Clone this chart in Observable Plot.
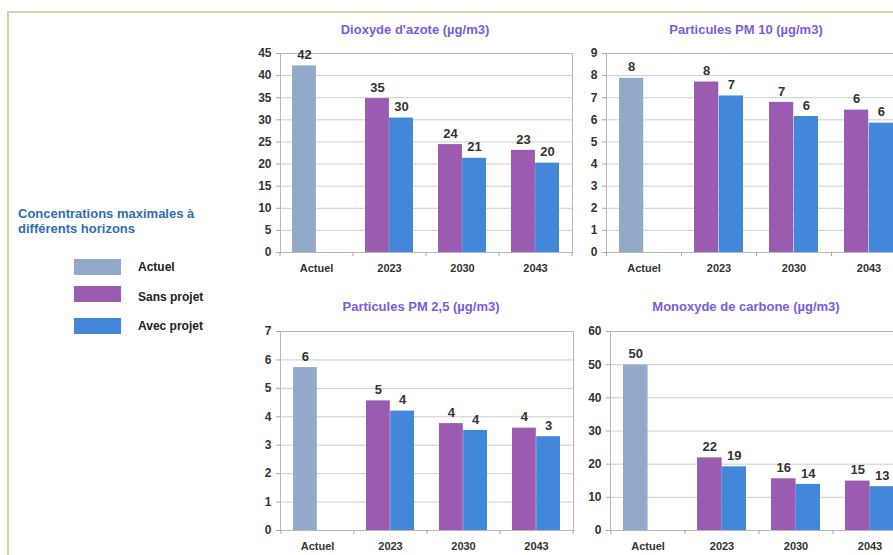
<!DOCTYPE html>
<html><head><meta charset="utf-8">
<script src="https://cdn.jsdelivr.net/npm/d3@7"></script>
<script src="https://cdn.jsdelivr.net/npm/@observablehq/plot@0.6"></script>
<style>
html,body{margin:0;padding:0;background:#fff;overflow:hidden;width:893px;height:555px;}
body{position:relative;font-family:"Liberation Sans",Arial,sans-serif;}
.border{position:absolute;left:7px;top:11px;width:900px;height:560px;border-top:2px solid #d9cfa8;border-left:2px solid #d9cfa8;}
.title{position:absolute;font-weight:bold;font-size:13px;color:#7a5ce0;white-space:nowrap;transform:translate(-50%,-50%);}
.chart{position:absolute;}
.chart svg{max-width:none !important;}
.ltitle{position:absolute;left:18px;top:207px;font-weight:bold;font-size:13px;line-height:14.5px;color:#2f6eb0;}
.sw{position:absolute;left:74px;width:47px;height:16px;}
.lab{position:absolute;left:138px;font-weight:bold;font-size:12px;color:#222;transform:translateY(-50%);white-space:nowrap;}
</style>
</head><body>
<div class="border"></div>
<div id="root"></div>
<script>
// ---- data ----
const categories = ["Actuel", "2023", "2030", "2043"];
const years = ["2023", "2030", "2043"];
const seriesNames = ["Actuel", "Sans projet", "Avec projet"];
const seriesColors = ["#93a9c9", "#9b5bb0", "#4287d9"];
const legendTitle = ["Concentrations maximales à", "différents horizons"];

const titles = ["Dioxyde d'azote (µg/m3)", "Particules PM 10 (µg/m3)", "Particules PM 2,5 (µg/m3)", "Monoxyde de carbone (µg/m3)"];

const no2Actuel = 42.2;
const no2Sans = [34.8, 24.4, 23.1];
const no2Avec = [30.4, 21.3, 20.2];
const no2Ticks = [0, 5, 10, 15, 20, 25, 30, 35, 40, 45];

const pm10Actuel = 7.88;
const pm10Sans = [7.71, 6.79, 6.44];
const pm10Avec = [7.08, 6.15, 5.85];
const pm10Ticks = [0, 1, 2, 3, 4, 5, 6, 7, 8, 9];

const pm25Actuel = 5.73;
const pm25Sans = [4.56, 3.76, 3.6];
const pm25Avec = [4.2, 3.52, 3.3];
const pm25Ticks = [0, 1, 2, 3, 4, 5, 6, 7];

const coActuel = 49.9;
const coSans = [21.9, 15.6, 14.9];
const coAvec = [19.2, 13.9, 13.2];
const coTicks = [0, 10, 20, 30, 40, 50, 60];

// ---- layout ----
const charts = [
  {actuel: no2Actuel, sans: no2Sans, avec: no2Avec, ticks: no2Ticks, left: 230, top: 40, ml: 50, innerW: 292, W: 350, tx: 415, ty: 29},
  {actuel: pm10Actuel, sans: pm10Sans, avec: pm10Avec, ticks: pm10Ticks, left: 560, top: 40, ml: 46, innerW: 300, W: 360, tx: 746, ty: 29},
  {actuel: pm25Actuel, sans: pm25Sans, avec: pm25Avec, ticks: pm25Ticks, left: 230, top: 318, ml: 50, innerW: 293, W: 350, tx: 421, ty: 306},
  {actuel: coActuel, sans: coSans, avec: coAvec, ticks: coTicks, left: 560, top: 318, ml: 50, innerW: 296, W: 360, tx: 746, ty: 306}
];

const fmt = d3.format(".0f");
const root = document.getElementById("root");

charts.forEach((c, k) => {
  const leftData = [{cat: "Actuel", series: "Actuel", value: c.actuel}]
    .concat(years.map((y, i) => ({cat: y, series: "Sans projet", value: c.sans[i]})));
  const rightData = years.map((y, i) => ({cat: y, series: "Avec projet", value: c.avec[i]}));
  const pi = 0.34, po = 0.17;
  const step = c.innerW / (categories.length - pi + 2 * po);
  const half = step * (1 - pi) / 2;
  const yMax = c.ticks[c.ticks.length - 1];
  const svg = Plot.plot({
    width: c.W, height: 242,
    marginLeft: c.ml, marginRight: c.W - c.ml - c.innerW, marginTop: 13, marginBottom: 30,
    style: {fontFamily: "'Liberation Sans', Arial, sans-serif", fontWeight: "bold", color: "#333", background: "transparent", overflow: "visible", maxWidth: "none"},
    x: {domain: categories, paddingInner: pi, paddingOuter: po, label: null},
    y: {domain: [0, yMax], label: null},
    color: {domain: seriesNames, range: seriesColors},
    marks: [
      Plot.gridY({ticks: c.ticks, stroke: "#cdcdcd", strokeOpacity: 1}),
      Plot.barY(leftData, {x: "cat", y: "value", fill: "series", insetRight: half}),
      Plot.barY(rightData, {x: "cat", y: "value", fill: "series", insetLeft: half}),
      Plot.frame({stroke: "#b8b8b8"}),
      Plot.axisY({ticks: c.ticks, tickFormat: d => String(d), tickSize: 4, tickPadding: 5, stroke: "#a8a8a8", fill: "#333", fontSize: 12, label: null}),
      Plot.axisX({tickSize: 0, tickPadding: 12, fill: "#333", fontSize: 11, label: null}),
      Plot.axisX({tickSize: 4, text: null, dx: -step / 2, stroke: "#a8a8a8", label: null}),
      Plot.axisX({ticks: [categories[categories.length - 1]], tickSize: 4, text: null, dx: step / 2, stroke: "#a8a8a8", label: null}),
      Plot.text(leftData, {x: "cat", y: "value", text: d => fmt(d.value), dx: -half / 2, dy: -11, fontSize: 13, fill: "#333"}),
      Plot.text(rightData, {x: "cat", y: "value", text: d => fmt(d.value), dx: half / 2, dy: -11, fontSize: 13, fill: "#333"})
    ]
  });
  const wrap = document.createElement("div");
  wrap.className = "chart";
  wrap.style.left = c.left + "px";
  wrap.style.top = c.top + "px";
  wrap.style.width = c.W + "px";
  wrap.appendChild(svg);
  root.appendChild(wrap);
  const t = document.createElement("div");
  t.className = "title";
  t.style.left = c.tx + "px";
  t.style.top = c.ty + "px";
  t.textContent = titles[k];
  root.appendChild(t);
});

// ---- legend ----
const lt = document.createElement("div");
lt.className = "ltitle";
lt.innerHTML = legendTitle.join("<br>");
root.appendChild(lt);
const swTops = [259, 286, 318];
const labCenters = [267, 297, 326];
seriesNames.forEach((s, i) => {
  const sw = document.createElement("div");
  sw.className = "sw";
  sw.style.top = swTops[i] + "px";
  sw.style.background = seriesColors[i];
  root.appendChild(sw);
  const lb = document.createElement("div");
  lb.className = "lab";
  lb.style.top = labCenters[i] + "px";
  lb.textContent = s;
  root.appendChild(lb);
});
</script>
</body></html>
